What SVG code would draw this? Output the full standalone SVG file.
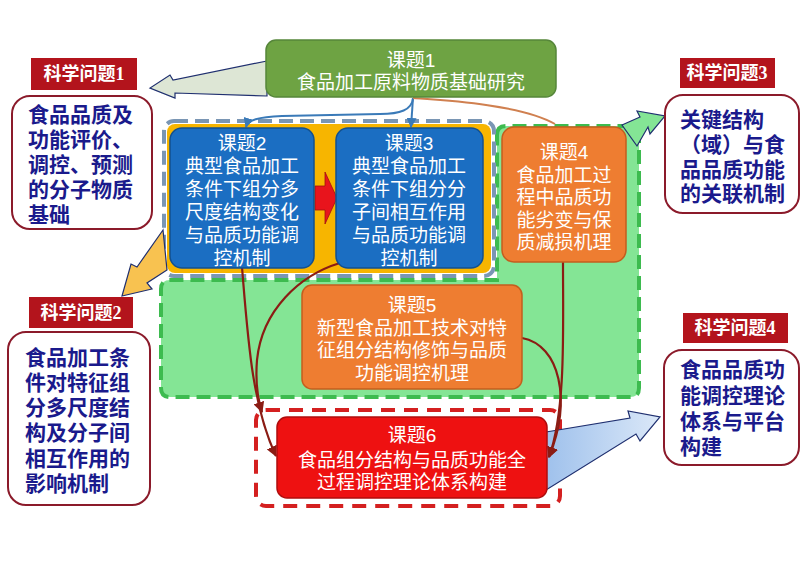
<svg xmlns="http://www.w3.org/2000/svg" width="800" height="566" viewBox="0 0 800 566">
<defs>
<style>
text{font-family:"Liberation Sans","Noto Sans CJK SC",sans-serif;}
.tw{fill:#ffffff;font-size:19px;text-anchor:middle;}
.qt{fill:#1a1a8c;font-size:21px;font-weight:bold;}
.lbl{fill:#ffffff;font-size:18px;font-weight:bold;text-anchor:middle;font-family:"Liberation Serif","Noto Sans CJK SC",serif;}
.lblbox{fill:#b3141c;}
.qbox{fill:#ffffff;stroke:#8b1a2a;stroke-width:2;}
.blue{fill:#1b6ec2;stroke:#13508e;stroke-width:1.5;}
.orange{fill:#ee7d31;stroke:#c45e1e;stroke-width:1.5;}
.blk{stroke:#1f2f6f;stroke-width:1.2;stroke-linejoin:miter;}
.dr{fill:none;stroke:#8b1c14;stroke-width:2.2;}
</style>
<marker id="mb" viewBox="0 0 10 10" refX="9" refY="5" markerWidth="5" markerHeight="5" orient="auto"><path d="M0,0 L10,5 L0,10 Z" fill="#3a7ab8"/></marker>
<marker id="mr" viewBox="0 0 10 10" refX="9" refY="5" markerWidth="5" markerHeight="5" orient="auto"><path d="M0,0 L10,5 L0,10 Z" fill="#8b1c14"/></marker>
<linearGradient id="gb" x1="0" y1="0" x2="1" y2="0"><stop offset="0" stop-color="#9fc1ec"/><stop offset="1" stop-color="#dbe8f8"/></linearGradient>
</defs>

<g id="green-region">
<path d="M497,135 Q497,126 506,126 L630,126 Q639,126 639,135 L639,388 Q639,397 630,397 L170,397 Q161,397 161,388 L161,289 Q161,280 170,280 L497,280 Z" fill="#84e595" stroke="#3dbb4f" stroke-width="4" stroke-dasharray="14 7"/>
</g>
<g id="blue-region">
<rect x="164" y="121" width="330" height="155" rx="10" fill="#ffffff" stroke="#7a96b4" stroke-width="4" stroke-dasharray="14 7"/>
<rect x="167" y="124" width="324" height="149" rx="8" fill="#f7b500"/>
</g>
<g id="red-region">
<rect x="256" y="410" width="304" height="96" rx="10" fill="#ffffff" stroke="#d42020" stroke-width="4" stroke-dasharray="14 9"/>
</g>

<g id="block-arrows">
<path class="blk" d="M267,61 L173,80 L170,75 L150,88 L175,98 L175,93 L267,96 Z" fill="#dde6d5"/>
<path class="blk" d="M163,230 L137,267 L131,264 L122,296 L152,289 L147,283 L167,270 Z" fill="#f8c250"/>
<path class="blk" d="M622,125 L640,117 L637,111 L665,116 L650,134 L648,127 L637,146 Z" fill="#84e595"/>
<path class="blk" d="M546,432 L630,418 L628,411 L660,417 L640,441 L636,434 L546,490 Z" fill="url(#gb)"/>
<path d="M315,186 L325,186 L325,172 L337,198 L325,224 L325,210 L315,210 Z" fill="#e8141c" stroke="#a01010" stroke-width="0.8"/>
</g>

<g id="connectors">
<path d="M413,98 C412,110 400,114 380,114 L282,116 C258,117 248,120 246,127" fill="none" stroke="#3a7ab8" stroke-width="2" marker-end="url(#mb)"/>
<path d="M413,98 L411,127" fill="none" stroke="#3a7ab8" stroke-width="2" marker-end="url(#mb)"/>
<path d="M413,98 C440,100 520,104 555,124" fill="none" stroke="#d08050" stroke-width="2"/>
<path class="dr" d="M242,267 C248,340 252,405 276,456" marker-end="url(#mr)"/>
<path class="dr" d="M340,263 C300,275 262,310 257,360 C255,385 258,400 262,412" marker-end="url(#mr)"/>
<path class="dr" d="M563,262 C563,330 566,410 549,457" marker-end="url(#mr)"/>
<path class="dr" d="M522,338 C560,345 572,400 549,457" marker-end="url(#mr)"/>
</g>

<g id="topic1">
<rect x="266" y="40" width="290" height="57" rx="10" fill="#6ea343" stroke="#56863a" stroke-width="1.5"/>
<text class="tw" x="411" y="67">课题1<tspan x="411" dy="22">食品加工原料物质基础研究</tspan></text>
</g>
<g id="topic2">
<rect class="blue" x="170" y="128" width="144" height="140" rx="12"/>
<text class="tw" x="242" y="150">课题2<tspan x="242" dy="23">典型食品加工</tspan><tspan x="242" dy="23">条件下组分多</tspan><tspan x="242" dy="23">尺度结构变化</tspan><tspan x="242" dy="23">与品质功能调</tspan><tspan x="242" dy="23">控机制</tspan></text>
</g>
<g id="topic3">
<rect class="blue" x="336" y="128" width="147" height="140" rx="12"/>
<text class="tw" x="409" y="150">课题3<tspan x="409" dy="23">典型食品加工</tspan><tspan x="409" dy="23">条件下组分分</tspan><tspan x="409" dy="23">子间相互作用</tspan><tspan x="409" dy="23">与品质功能调</tspan><tspan x="409" dy="23">控机制</tspan></text>
</g>
<g id="topic4">
<rect class="orange" x="502" y="127" width="124" height="135" rx="12"/>
<text class="tw" x="564" y="159">课题4<tspan x="564" dy="23">食品加工过</tspan><tspan x="564" dy="22">程中品质功</tspan><tspan x="564" dy="23">能劣变与保</tspan><tspan x="564" dy="22">质减损机理</tspan></text>
</g>
<g id="topic5">
<rect class="orange" x="302" y="285" width="220" height="104" rx="10"/>
<text class="tw" x="412" y="312">课题5<tspan x="412" dy="23">新型食品加工技术对特</tspan><tspan x="412" dy="22">征组分结构修饰与品质</tspan><tspan x="412" dy="23">功能调控机理</tspan></text>
</g>
<g id="topic6">
<rect x="277" y="417" width="270" height="81" rx="10" fill="#ee1111" stroke="#b00c0c" stroke-width="1.5"/>
<text class="tw" x="412" y="442">课题6<tspan x="412" dy="25">食品组分结构与品质功能全</tspan><tspan x="412" dy="22">过程调控理论体系构建</tspan></text>
</g>

<g id="q1">
<rect class="lblbox" x="31" y="58" width="106" height="32"/>
<text class="lbl" x="84" y="80">科学问题1</text>
<rect class="qbox" x="12" y="96" width="140" height="133" rx="18"/>
<text class="qt" x="28" y="122">食品品质及<tspan x="28" dy="25">功能评价、</tspan><tspan x="28" dy="25">调控、预测</tspan><tspan x="28" dy="25">的分子物质</tspan><tspan x="28" dy="25">基础</tspan></text>
</g>
<g id="q2">
<rect class="lblbox" x="29" y="297" width="104" height="31"/>
<text class="lbl" x="81" y="319">科学问题2</text>
<rect class="qbox" x="8" y="332" width="142" height="173" rx="18"/>
<text class="qt" x="25" y="365">食品加工条<tspan x="25" dy="25">件对特征组</tspan><tspan x="25" dy="25">分多尺度结</tspan><tspan x="25" dy="25">构及分子间</tspan><tspan x="25" dy="26">相互作用的</tspan><tspan x="25" dy="25">影响机制</tspan></text>
</g>
<g id="q3">
<rect class="lblbox" x="680" y="58" width="95" height="30"/>
<text class="lbl" x="727" y="79">科学问题3</text>
<rect class="qbox" x="665" y="95" width="134" height="118" rx="18"/>
<text class="qt" x="680" y="127">关键结构<tspan x="680" dy="25">（域）与食</tspan><tspan x="680" dy="25">品品质功能</tspan><tspan x="680" dy="24">的关联机制</tspan></text>
</g>
<g id="q4">
<rect class="lblbox" x="683" y="313" width="105" height="30"/>
<text class="lbl" x="735" y="334">科学问题4</text>
<rect class="qbox" x="664" y="350" width="135" height="115" rx="18"/>
<text class="qt" x="680" y="377">食品品质功<tspan x="680" dy="26">能调控理论</tspan><tspan x="680" dy="26">体系与平台</tspan><tspan x="680" dy="25">构建</tspan></text>
</g>
</svg>
